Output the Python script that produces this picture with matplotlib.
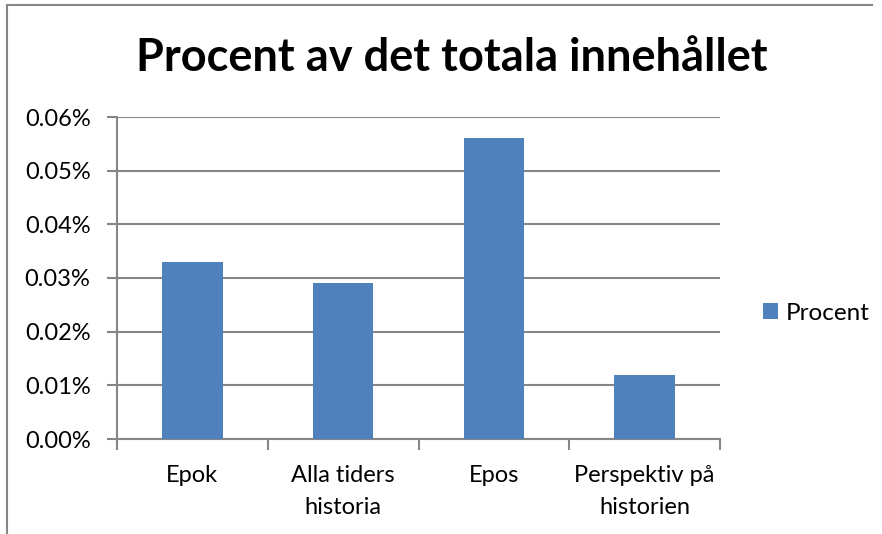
import numpy as np
from matplotlib import pyplot as plt
from matplotlib.lines import Line2D
from matplotlib.ticker import FuncFormatter, FixedLocator

categories = ['Epok', 'Alla tiders\nhistoria', 'Epos', 'Perspektiv på\nhistorien']
values = [0.033, 0.029, 0.056, 0.012]   # percent
series_name = 'Procent'
yticks = [0.00, 0.01, 0.02, 0.03, 0.04, 0.05, 0.06]

bar_col = '#4f81bd'
grid_col = '#868686'
font = 'Lato'
fs = 17

fg = plt.figure(figsize=(8.82, 5.34), dpi=100)
W, H = 882, 534

# chart frame (cropped: only top and left edges visible)
fg.add_artist(Line2D([7/W, 872/W], [1-5/H, 1-5/H], color=grid_col, lw=1.5, transform=fg.transFigure))
fg.add_artist(Line2D([7/W, 7/W], [0, 1-5/H], color=grid_col, lw=1.5, transform=fg.transFigure))

ax = fg.add_axes([117/W, 1-439/H, (720-117)/W, (439-117)/H])

x = np.arange(len(categories))
ax.bar(x, values, width=0.4, color=bar_col, zorder=3, label=series_name)

ax.set_xlim(-0.5, len(categories)-0.5)
ax.set_ylim(0, 0.06)
ax.yaxis.set_major_locator(FixedLocator(yticks))
ax.yaxis.set_major_formatter(FuncFormatter(lambda v, p: '%.2f%%' % v))
ax.grid(axis='y', color=grid_col, lw=1.5, zorder=0)

# category boundaries as major ticks, labels at centres
ax.xaxis.set_major_locator(FixedLocator(np.arange(len(categories)+1)-0.5))
ax.xaxis.set_major_formatter(FuncFormatter(lambda v, p: ''))
ax.set_xticks(x, minor=True)
ax.set_xticklabels(categories, minor=True, fontsize=fs, family=font, linespacing=1.65)
ax.tick_params(axis='x', which='major', length=8, width=1.5, color=grid_col)
ax.tick_params(axis='x', which='minor', length=0, pad=19)
ax.tick_params(axis='y', length=7, width=1.5, color=grid_col, labelsize=fs, pad=12)
for lb in ax.get_yticklabels():
    lb.set_family(font)

for s in ['top', 'right']:
    ax.spines[s].set_visible(False)
for s in ['left', 'bottom']:
    ax.spines[s].set_color(grid_col)
    ax.spines[s].set_linewidth(1.5)

fg.text(452/W, 1-58/H, 'Procent av det totala innehållet', ha='center', va='center',
        fontsize=32.5, fontweight='bold', family=font)

leg = ax.legend(loc='center left', bbox_to_anchor=(763/W, 1-313/H), bbox_transform=fg.transFigure,
                frameon=False, prop={'family': font, 'size': 17.5}, handlelength=0.62,
                handleheight=0.62, handletextpad=0.3, borderpad=0, borderaxespad=0)

fg.savefig('out.png', dpi=100)
